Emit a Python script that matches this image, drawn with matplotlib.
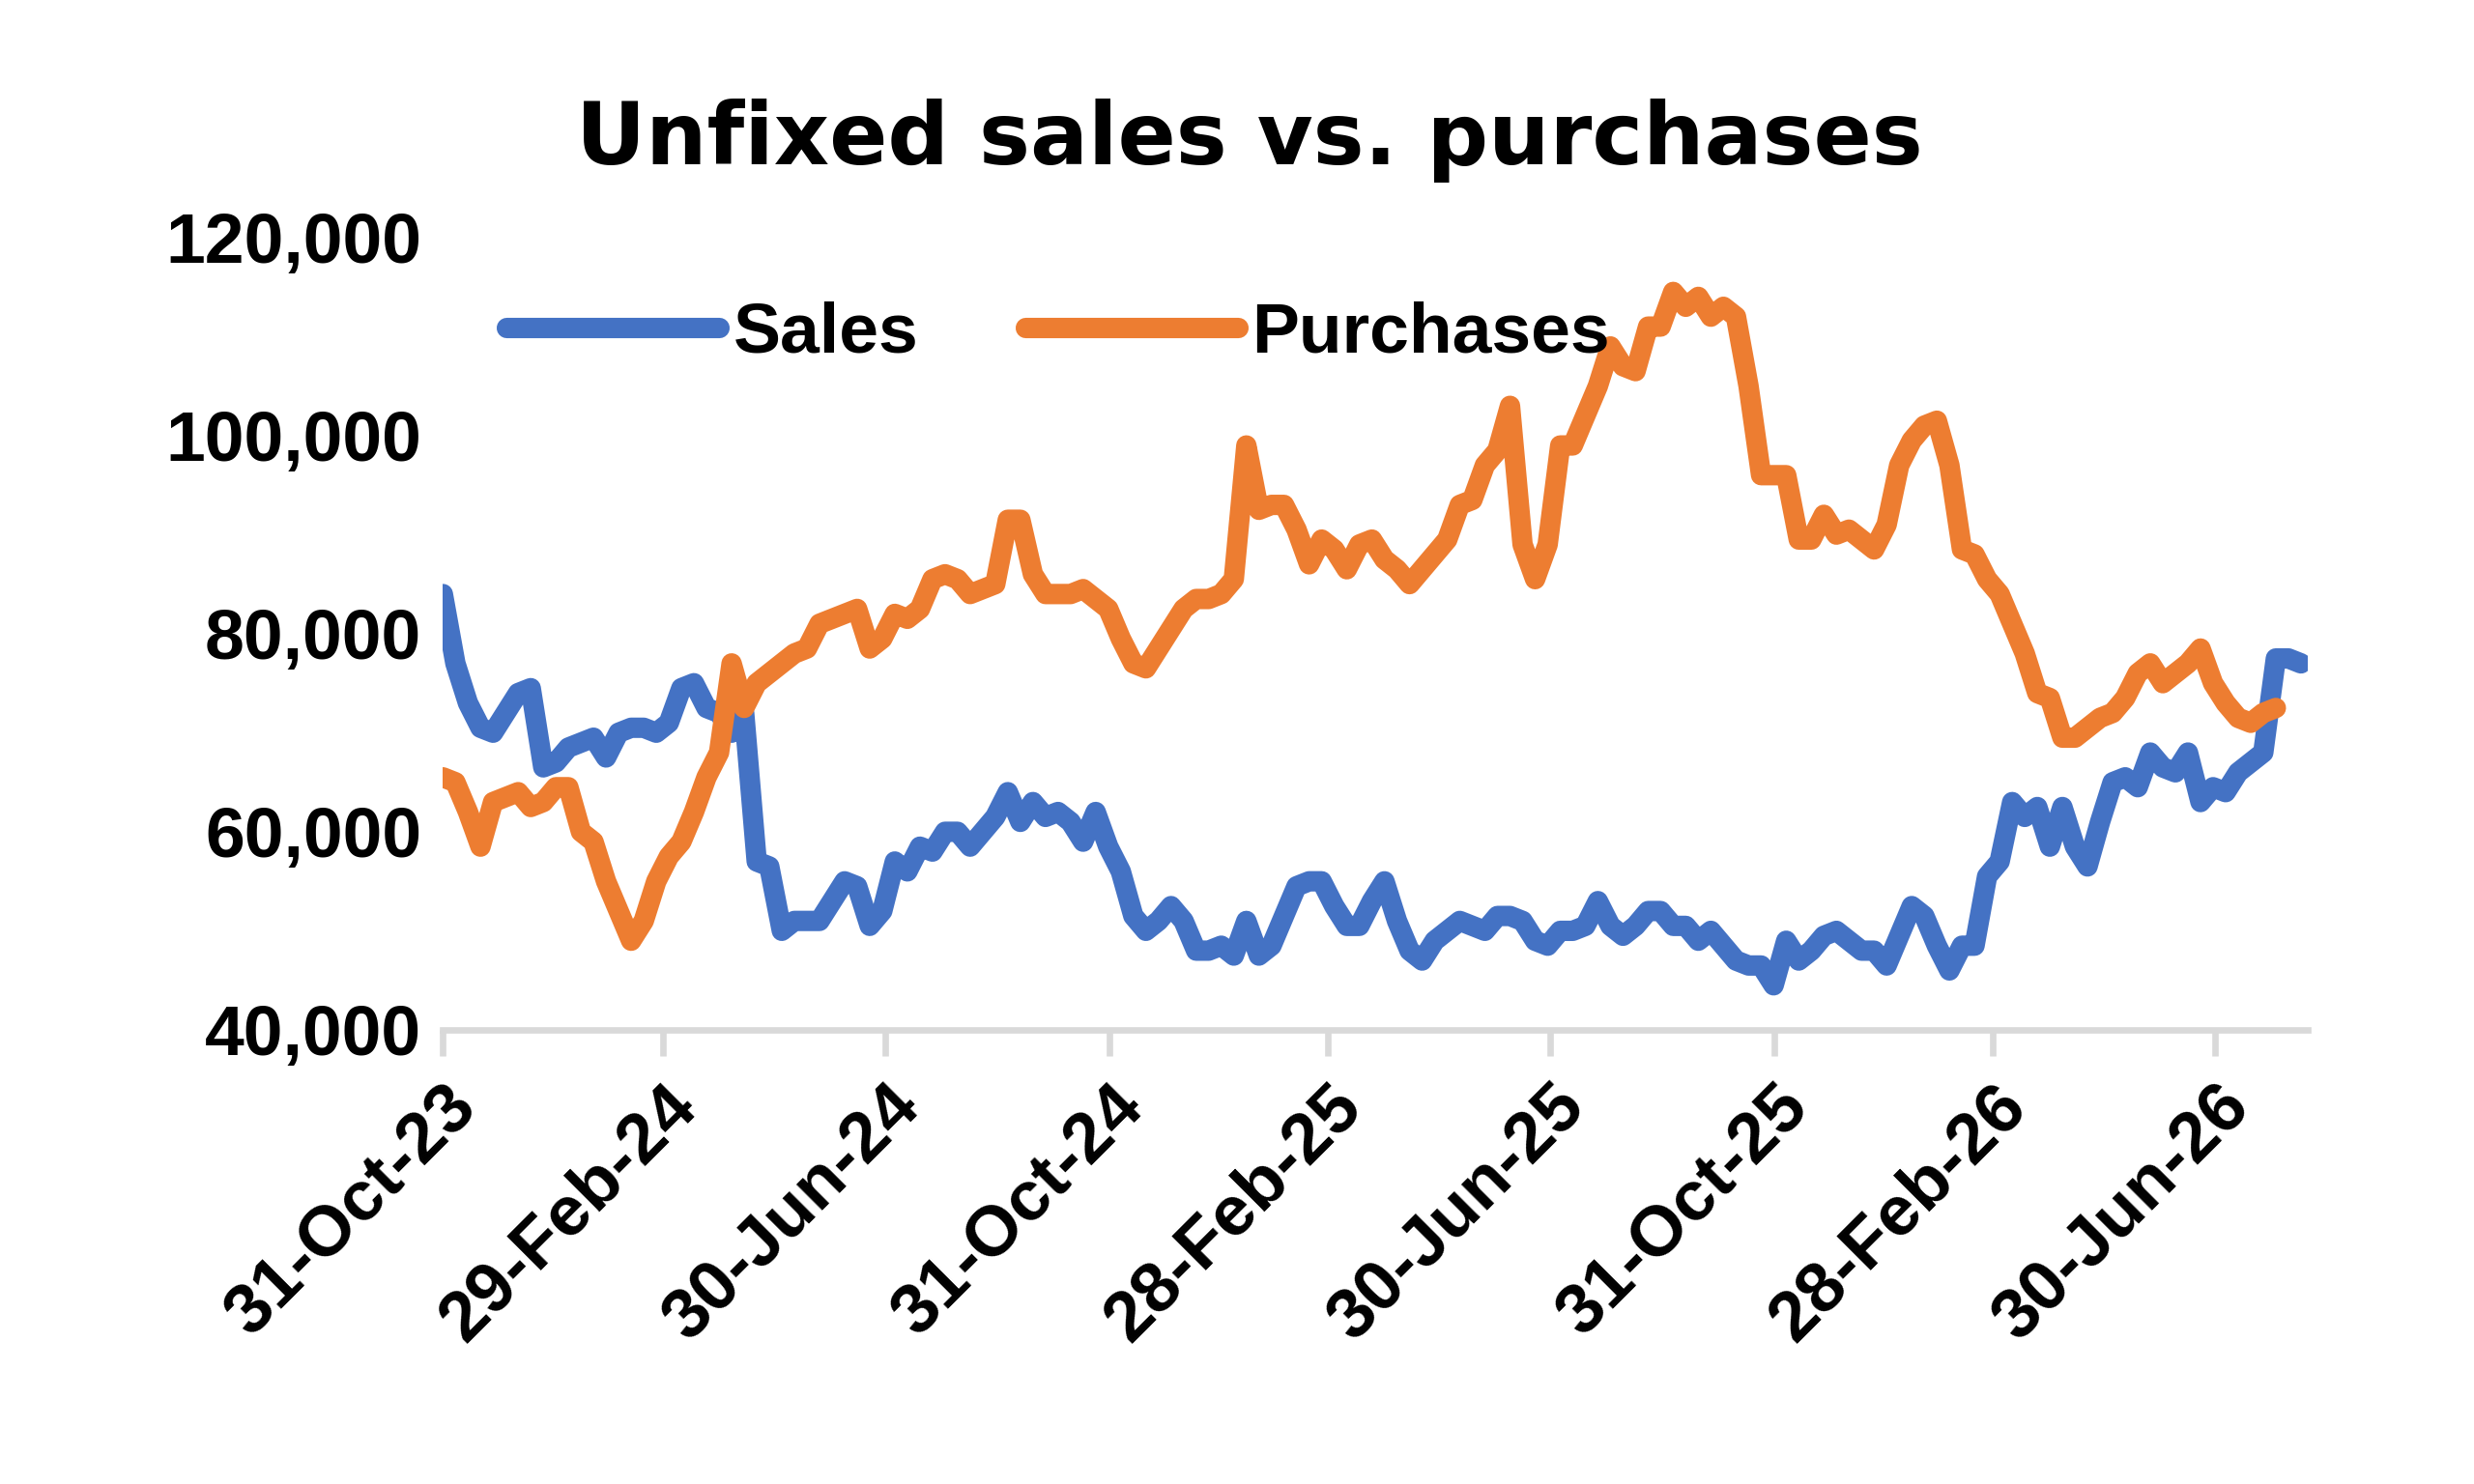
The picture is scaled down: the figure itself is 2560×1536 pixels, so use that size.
import matplotlib
matplotlib.use("Agg")
import matplotlib.pyplot as plt
import pandas as pd

plt.rcParams['font.family'] = ['Liberation Sans', 'DejaVu Sans']

sales = [84000,77000,73000,70500,70000,72000,74000,74500,66500,67000,68500,69000,69500,67500,70000,70500,70500,70000,71000,74500,75000,72500,72000,70000,72000,57000,56500,50000,51000,51000,51000,53000,55000,54500,50500,52000,57000,56000,58500,58000,60000,60000,58500,60000,61500,64000,61000,63000,61500,62000,61000,59000,62000,58500,56000,51500,50000,51000,52500,51000,48000,48000,48500,47500,51000,47500,48500,51500,54500,55000,55000,52500,50500,50500,53000,55000,51000,48000,47000,49000,50000,51000,50500,50000,51500,51500,51000,49000,48500,50000,50000,50500,53000,50500,49500,50500,52000,52000,50500,50500,49000,50000,48500,47000,46500,46500,44500,49000,47000,48000,49500,50000,49000,48000,48000,46500,49500,52500,51500,48500,46000,48500,48500,55500,57000,63000,61500,62500,58500,62500,58500,56500,61000,65000,65500,64500,68000,66500,66000,68000,63000,64500,64000,66000,67000,68000,77500,77500,77000]
purchases = [65500,65000,62000,58500,63000,63500,64000,62500,63000,64500,64500,60000,59000,55000,52000,49000,51000,55000,57500,59000,62000,65500,68000,77000,72500,75000,76000,77000,78000,78500,81000,81500,82000,82500,78500,79500,82000,81500,82500,85500,86000,85500,84000,84500,85000,91500,91500,86000,84000,84000,84000,84500,83500,82500,79500,77000,76500,78500,80500,82500,83500,83500,84000,85500,99000,92500,93000,93000,90500,87000,89500,88500,86500,89000,89500,87500,86500,85000,86500,88000,89500,93000,93500,97000,98500,103000,89000,85500,89000,99000,99000,102000,105000,109000,107000,106500,111000,111000,114500,113000,114000,112000,113000,112000,105000,96000,96000,96000,89500,89500,92000,90000,90500,89500,88500,91000,97000,99500,101000,101500,97000,88500,88000,85500,84000,81000,78000,74000,73500,69500,69500,70500,71500,72000,73500,76000,77000,75000,76000,77000,78500,75000,73000,71500,71000,72000,72500]
tick_dates = ["2023-10-31","2024-02-29","2024-06-30","2024-10-31","2025-02-28","2025-06-30","2025-10-31","2026-02-28","2026-06-30"]
tick_labels = ["31-Oct-23","29-Feb-24","30-Jun-24","31-Oct-24","28-Feb-25","30-Jun-25","31-Oct-25","28-Feb-26","30-Jun-26"]

start = pd.Timestamp("2023-10-31")
span = (pd.Timestamp("2026-08-16") - start)
ds = pd.date_range(start, start + span, periods=len(sales))
dp = pd.date_range(start, start + span*(len(purchases)-1)/(len(sales)-1), periods=len(purchases))

fig = plt.figure(figsize=(16, 9.6), dpi=160)
ax = fig.add_axes([0.179, 0.306, 0.754, 0.534])
ax.plot(ds, sales, color="#4472C4", lw=9.5, label="Sales", solid_capstyle="round", solid_joinstyle="round")
ax.plot(dp, purchases, color="#ED7D31", lw=9.5, label="Purchases", solid_capstyle="round", solid_joinstyle="round")
ax.set_ylim(40000, 120000)
ax.set_yticks(range(40000, 120001, 20000))
ax.yaxis.set_major_formatter(matplotlib.ticker.FuncFormatter(lambda v, p: f"{int(v):,}"))
ax.set_xlim(start, pd.Timestamp("2026-08-20"))
ax.set_xticks(pd.to_datetime(tick_dates))
ax.set_xticklabels(tick_labels, rotation=45, ha="right", rotation_mode="anchor")
for s in ["top", "right", "left"]:
    ax.spines[s].set_visible(False)
ax.spines["bottom"].set_color("#D9D9D9")
ax.spines["bottom"].set_linewidth(3)
ax.tick_params(axis="x", colors="#D9D9D9", length=12, width=3, direction="out", labelcolor="black", labelsize=33, pad=8)
ax.tick_params(axis="y", length=0, labelsize=33, pad=10)
for t in ax.get_xticklabels() + ax.get_yticklabels():
    t.set_fontweight("bold")
fig.text(0.505, 0.905, "Unfixed sales vs. purchases", ha="center", va="center", fontsize=40,
         fontweight="black", family=["DejaVu Sans"])
ax.legend(loc="upper left", bbox_to_anchor=(0.0, 1.0), ncol=2, frameon=False, handlelength=3.0,
          prop={"size": 33, "weight": "bold"}, columnspacing=1.5, handletextpad=0.2)
fig.savefig("out.png", dpi=160)
